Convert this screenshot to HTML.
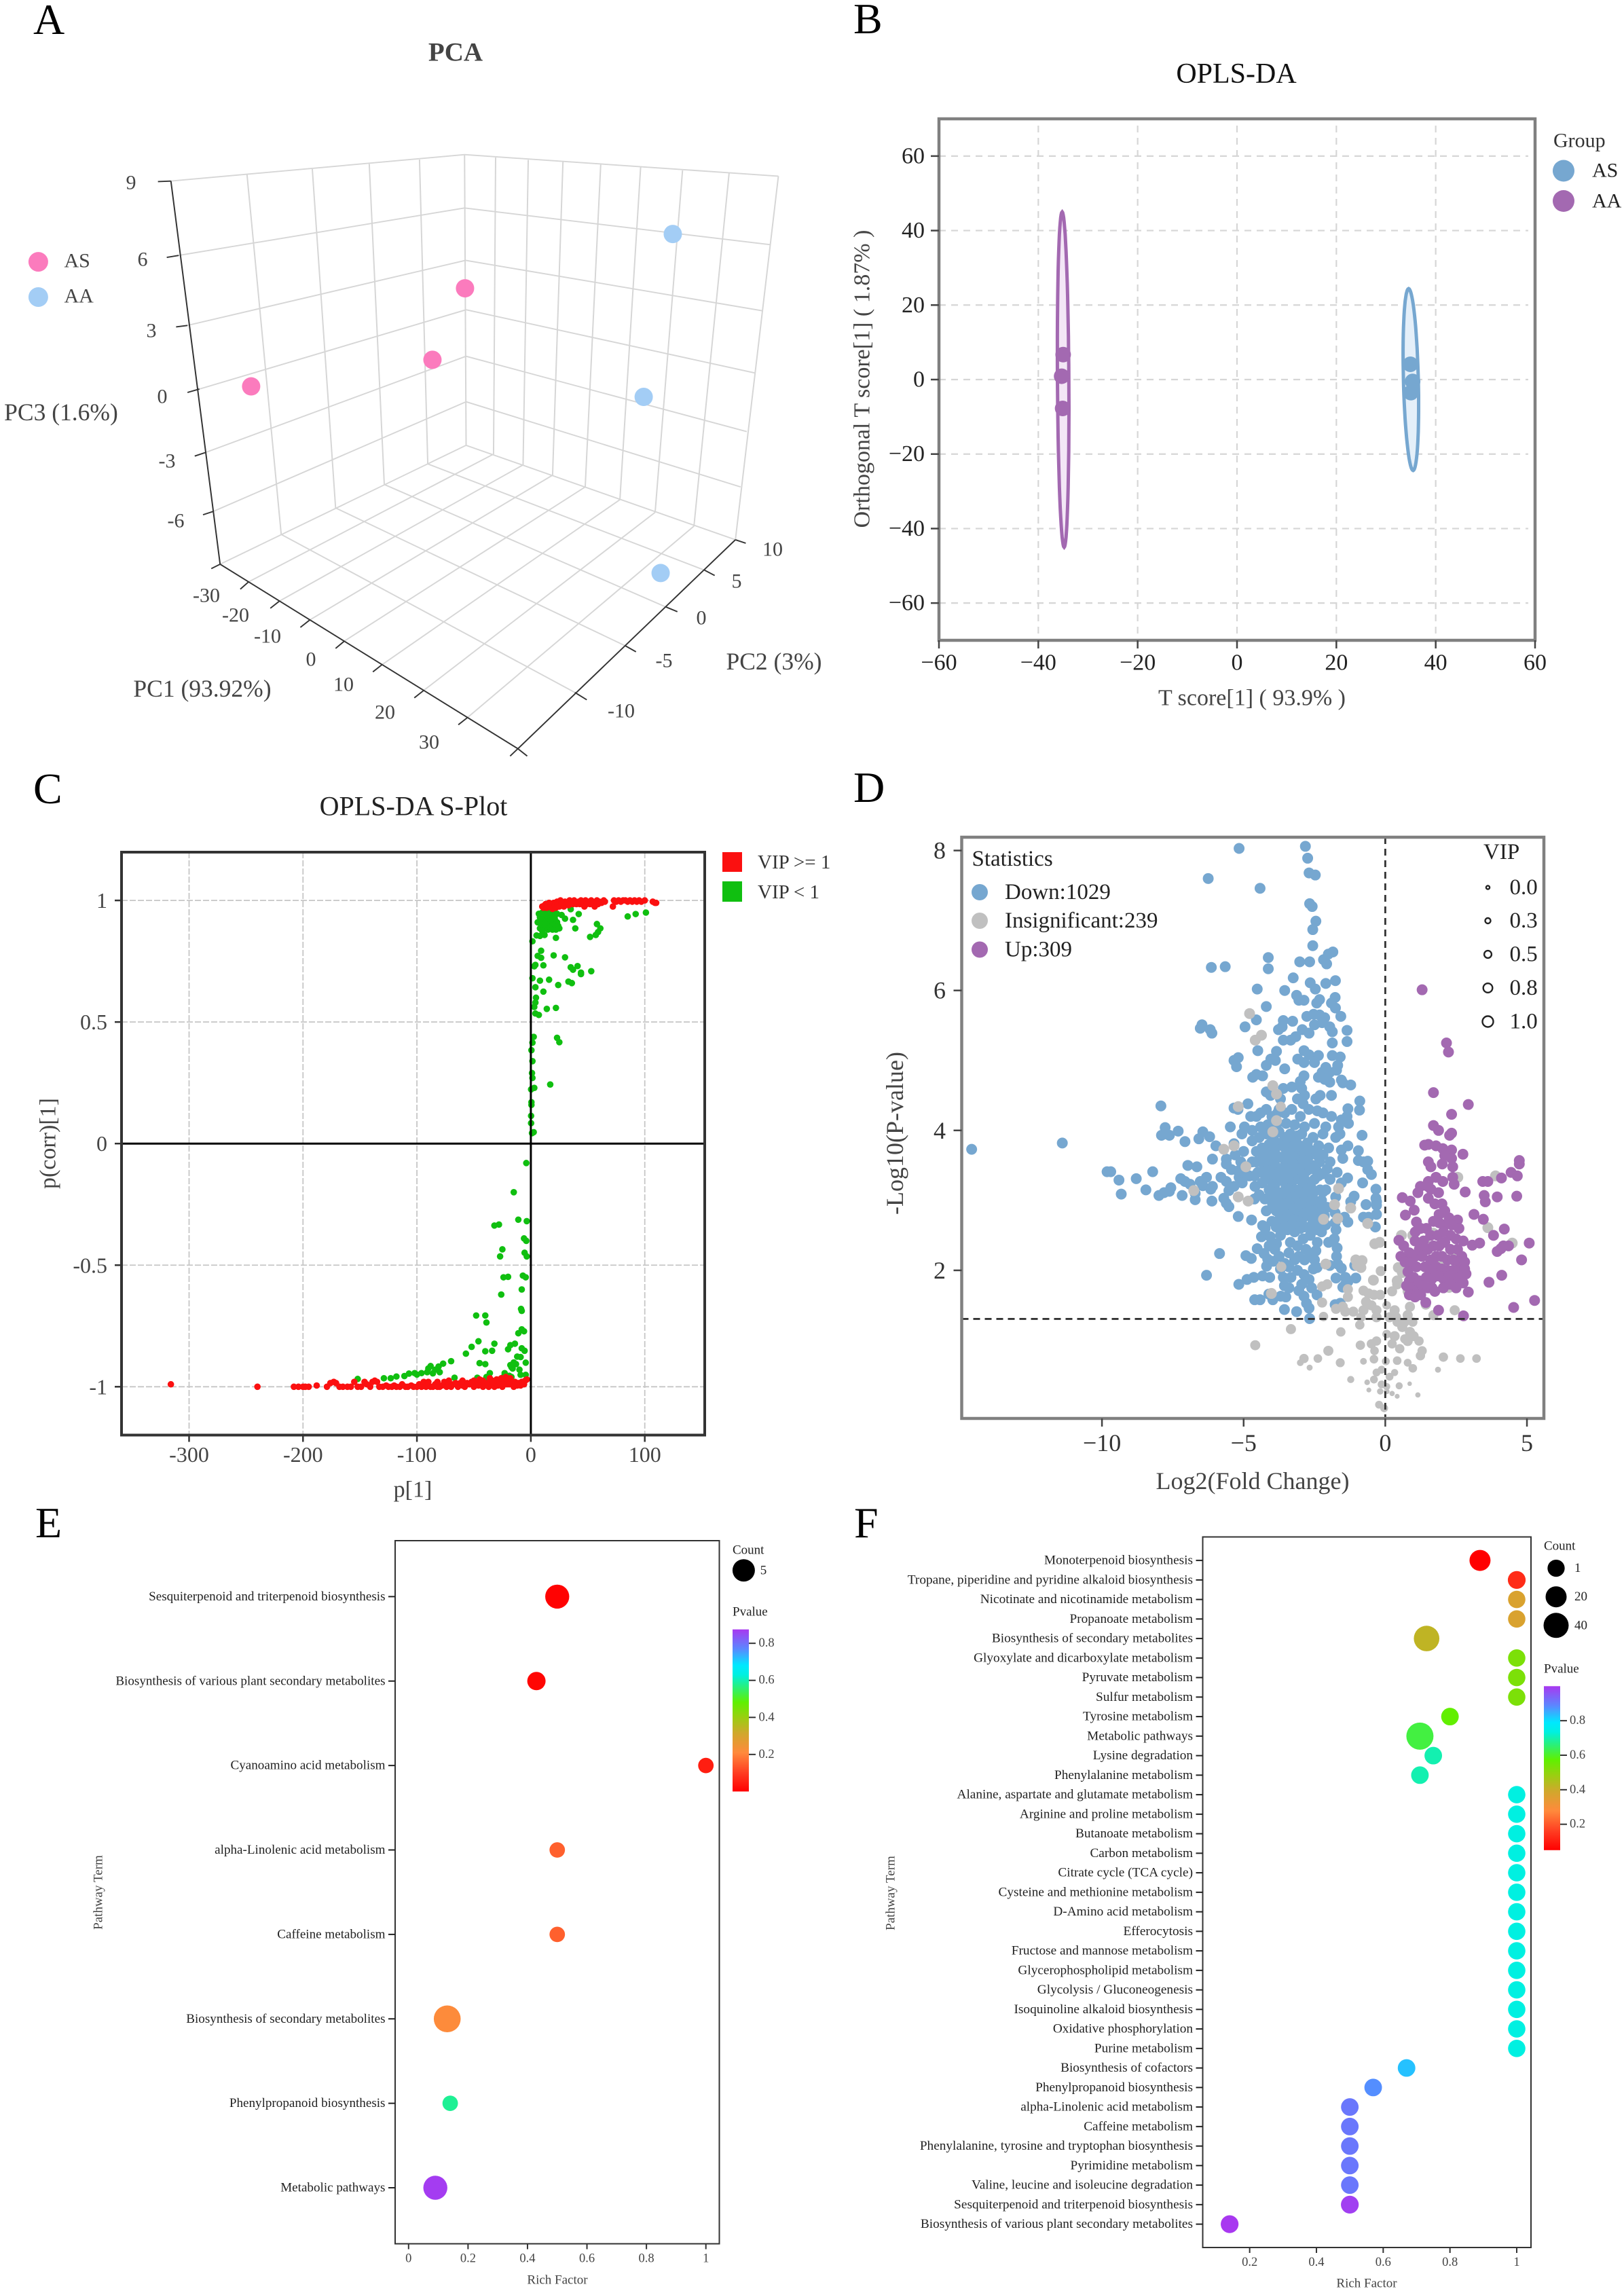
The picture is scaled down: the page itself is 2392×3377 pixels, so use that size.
<!DOCTYPE html>
<html lang="en">
<head>
<meta charset="utf-8">
<title>Metabolomics multi-panel figure</title>
<style>
html,body{margin:0;padding:0;background:#fff;}
svg{display:block;font-family:"Liberation Serif",serif;}
text{font-family:"Liberation Serif",serif;}
.c{text-anchor:middle;dominant-baseline:central;}
.l{text-anchor:start;dominant-baseline:central;}
.r{text-anchor:end;dominant-baseline:central;}
.letter{font-size:64px;fill:#000;}
</style>
</head>
<body>
<svg id="figure" xmlns="http://www.w3.org/2000/svg" width="2392" height="3377" viewBox="0 0 2392 3377">
<rect x="0" y="0" width="2392" height="3377" fill="#fff"/>
<defs id="defs"></defs>
<text class="letter" x="49" y="50">A</text>
<text class="letter" x="1257" y="49">B</text>
<text class="letter" x="49" y="1183">C</text>
<text class="letter" x="1257" y="1181">D</text>
<text class="letter" x="52" y="2264">E</text>
<text class="letter" x="1258" y="2264">F</text>

<g id="panel-a">
<text class="c" x="671" y="77" font-size="39" font-weight="bold" fill="#444">PCA</text>
<g transform="scale(.7628,.7207)" fill="none">
<path stroke="#d6d6d6" stroke-width="2.6" d="M477 357L543 1092M603 345L648 1038M713 335L742 990M810 324L826 948M897 316L900 910M330 370L897 316M345 522L897 425M362 665L899 532M385 795L900 633M396 925L900 728M412 1045L900 821M425 1153L900 910M897 316L1503 360M897 425L1487 500M899 532L1472 635M900 633L1457 762M900 728L1442 882M900 821L1430 995M900 910L1420 1103M1503 360L1420 1103M957 321L953 928M1020 326L1010 950M1087 331L1067 971M1160 335L1130 995M1237 342L1197 1021M1318 347L1265 1047M1408 352L1340 1075M953 928L480 1189M1010 950L540 1228M1067 971L598 1267M1130 995L665 1310M1197 1021L738 1358M1265 1047L818 1411M1340 1075L903 1466M543 1092L1110 1415M648 1038L1208 1320M742 990L1285 1240M826 948L1360 1165"/>
<path stroke="#333" stroke-width="2.6" d="M330 370L425 1153L1000 1530L1420 1103M305 371L330 370M322 526L345 522M340 668L362 665M362 802L385 795M376 932L396 925M392 1052L412 1045M408 1162L425 1153M480 1189L464 1204M540 1228L522 1243M598 1267L580 1282M665 1310L648 1325M738 1358L720 1373M818 1411L800 1426M903 1466L885 1481M985 1545L1000 1530L1018 1545M1110 1415L1133 1430M1208 1320L1228 1332M1285 1240L1308 1250M1360 1165L1380 1176M1420 1103L1440 1110"/>
</g>
<g font-size="30" fill="#444">
<text class="c" x="193" y="269">9</text>
<text class="c" x="210" y="382">6</text>
<text class="c" x="223" y="487">3</text>
<text class="c" x="239" y="584">0</text>
<text class="c" x="246" y="679">-3</text>
<text class="c" x="259" y="767">-6</text>
<text class="c" x="304" y="877">-30</text>
<text class="c" x="347" y="906">-20</text>
<text class="c" x="394" y="937">-10</text>
<text class="c" x="458" y="971">0</text>
<text class="c" x="506" y="1008">10</text>
<text class="c" x="567" y="1049">20</text>
<text class="c" x="632" y="1093">30</text>
<text class="c" x="915" y="1047">-10</text>
<text class="c" x="978" y="973">-5</text>
<text class="c" x="1033" y="910">0</text>
<text class="c" x="1085" y="856">5</text>
<text class="c" x="1138" y="809">10</text>
</g>
<g font-size="35.5" fill="#444">
<text class="c" x="90" y="607">PC3 (1.6%)</text>
<text class="c" x="298" y="1014">PC1 (93.92%)</text>
<text class="c" x="1140" y="974">PC2 (3%)</text>
</g>
<circle cx="56.4" cy="385.6" r="14.5" fill="#fb7bbd"/>
<circle cx="56.4" cy="437.5" r="14.5" fill="#a3cdf5"/>
<text class="l" x="94.5" y="384" font-size="30" fill="#444">AS</text>
<text class="l" x="94.5" y="436" font-size="30" fill="#444">AA</text>
</g>

<g id="panel-b">
<text class="c" x="1821" y="109" font-size="42" fill="#111">OPLS-DA</text>
<text class="c" x="1844" y="1028" font-size="34" fill="#444">T score[1] ( 93.9% )</text>
<text class="c" transform="translate(1270,558) rotate(-90)" font-size="34" fill="#444">Orthogonal T score[1] ( 1.87% )</text>
<text class="l" x="2288" y="207" font-size="30" fill="#333">Group</text>
<circle cx="2303" cy="251.5" r="16" fill="#76a7d0"/>
<circle cx="2303" cy="296" r="16" fill="#a369b1"/>
<text class="l" x="2345" y="251" font-size="30" fill="#222">AS</text>
<text class="l" x="2345" y="296" font-size="30" fill="#222">AA</text>
</g>

<g id="panel-c">
<text class="c" x="609" y="1187" font-size="40" fill="#222">OPLS-DA S-Plot</text>
<text class="c" x="608" y="2194" font-size="34" fill="#444">p[1]</text>
<text class="c" transform="translate(71,1684) rotate(-90)" font-size="34" fill="#444">p(corr)[1]</text>
<rect x="1064" y="1255" width="29" height="29" fill="#fb1010"/>
<rect x="1064" y="1298" width="29" height="30" fill="#10bf10"/>
<text class="l" x="1116" y="1270" font-size="29" fill="#333">VIP &gt;= 1</text>
<text class="l" x="1116" y="1314" font-size="29" fill="#333">VIP &lt; 1</text>
</g>

<g id="panel-d">
<text class="c" x="1845" y="2181" font-size="36" fill="#444">Log2(Fold Change)</text>
<text class="c" transform="translate(1318,1669) rotate(-90)" font-size="36" fill="#444">-Log10(P-value)</text>
</g>

<g id="panel-e">
<text class="c" x="821" y="3358" font-size="19" fill="#444">Rich Factor</text>
<text class="c" transform="translate(145,2787) rotate(-90)" font-size="19" fill="#444">Pathway Term</text>
<text class="l" x="1079" y="2283" font-size="19" fill="#222">Count</text>
<text class="l" x="1079" y="2374" font-size="19" fill="#222">Pvalue</text>
</g>

<g id="panel-f">
<text class="c" x="2013" y="3363" font-size="19" fill="#444">Rich Factor</text>
<text class="c" transform="translate(1312,2788) rotate(-90)" font-size="19" fill="#444">Pathway Term</text>
<text class="l" x="2274" y="2277" font-size="19" fill="#222">Count</text>
<text class="l" x="2274" y="2458" font-size="19" fill="#222">Pvalue</text>
</g>
</svg>

<script>
/* ---------- Panel A data ---------- */
const pcaAS = [[-33,-13.06,-0.62],[-33,8.07,-7.71],[-33,12.55,-5.75]];
const pcaAA = [[33,10.8,5.61],[33,5.78,-0.94],[33,5.92,-10.26]];

/* ---------- Panel B data ---------- */
const oplsTicks = [-60,-40,-20,0,20,40,60];
const oplsAS = [[34.9,4.1],[35.35,-0.5],[35,-3.5]];
const oplsAA = [[-35,6.7],[-35.3,0.9],[-35.1,-7.75]];
const oplsEllipseAS = [35,0,1.5,24.4,0.45];
const oplsEllipseAA = [-35,0,1.15,45,0.2];

/* ---------- Panel C data ---------- */
const sPlotXTicks = [-300,-200,-100,0,100];
const sPlotYTicks = [-1,-0.5,0,0.5,1];
const sPlotGreen = [[101,.95],[92,.944],[85,.934],[61,.885],[59,.87],[58,.903],[57,.858],[52,.85],[39,.885],[42,.944],[35,.964],[30,.925],[37,.92],[27,.94],[25,.885],[22,.846],[20,.774],[30,.766],[35,.725],[37,.715],[41,.73],[44,.703],[44,.697],[53,.709],[33,.666],[36,.66],[24,.652],[16,.674],[8,.67],[1.4,.68],[4,.643],[11,.625],[4.5,.6],[4,.58],[3,.562],[4,.535],[7,.529],[14,.554],[22,.558],[23,.435],[25,.417],[17,.243],[2.5,.439],[1.4,.415],[.5,.384],[1.4,.339],[1,.29],[1.4,.27],[3,.229],[.2,.223],[.5,.17],[.5,.159],[.2,.114],[.2,.084],[2.5,.047],[1,.043],[1.4,.832],[5,.856],[8,.854],[12,.858],[9,.793],[6,.772],[9,.764],[4,.735],[3,.729],[11,.733],
[6,.91],[8,.93],[9,.9],[10,.95],[11,.92],[12,.89],[13,.94],[13,.91],[14,.96],[15,.88],[15,.93],[16,.9],[16,.95],[17,.92],[17,.89],[18,.94],[18,.965],[19,.91],[19,.88],[20,.935],[20,.955],[21,.9],[21,.925],[22,.88],[23,.91],[23,.945],[24,.895],[8,.885],[10,.875],[7,.945],
[-4,-.08],[-15,-.2],[-11,-.313],[-3.6,-.319],[-28,-.333],[-32,-.337],[-6,-.39],[-4,-.4],[-25,-.435],[-27,-.464],[-5.5,-.449],[-3.6,-.464],[-24,-.55],[-20,-.548],[-7,-.543],[-4.5,-.55],[-8,-.6],[-26,-.621],[-8.6,-.68],[-8,-.688],[-48,-.707],[-40,-.707],[-39,-.736],[-8,-.764],[-11,-.78],[-6,-.772],[-46,-.813],[-52,-.836],[-32,-.823],[-18,-.829],[-14,-.823],[-40,-.854],[-34,-.852],[-20,-.846],[-8,-.842],[-5.5,-.852],[-57,-.864],[-12,-.876],[-9,-.878],[-45,-.903],[-40,-.907],[-18,-.911],[-13,-.907],[-4.5,-.901],[-70,-.895],[-77,-.905],[-81,-.917],[-88,-.915],[-91,-.94],[-96,-.944],[-102,-.944],[-107,-.946],[-111,-.956],[-118,-.958],[-123,-.965],[-129,-.965],[-152,-.968],[-67,-.963],[-47,-.963],[-36,-.944],[-39,-.96],[-23,-.944],[-17,-.96],[-9,-.951],[-4.5,-.951],[-16,-.925],[-84,-.93],[-90,-.925],[-86,-.945],[-80,-.94],[-100,-.95],[-15,-.9],[-17,-.92],[-19,-.955],[-24,-.96],[-10,-.93]];
const sPlotRed = [[-316,-.99],[-240,-1],[-208,-1],[-204,-1],[-200,-1],[-198,-1],[-195,-1],[-188,-.995],[-179,-1],[-176,-.985],[-173,-.98],[-171,-.985],[-168,-1],[-165,-1],[-161,-1],[-158,-1],[-155,-.98],[-152,-1],[-149,-1],[-146,-.98],[-144,-.99],[-141,-1],[-139,-.98],[-137,-.975],[-135,-.98],[-133,-1],[-130,-1],[-127,-.995],[-125,-1],[-122,-1],[-120,-.995],[-118,-1],[-115,-1],[-113,-.99],[-110,-1],[-108,-1],[-105,-.995],[-103,-1],[-100,-1],[-98,-.99],[-96,-1],[-94,-.98],[-92,-1],[-90,-.995],[-88,-1],[-86,-1],[-84,-.99],[-82,-1],[-80,-1],[-78,-.995],[-76,-.98],[-74,-1],[-72,-.99],[-70,-1],[-68,-.99],[-66,-.985],[-64,-1],[-62,-.985],[-60,-.995],[-58,-1],[-56,-.985],[-54,-.99],[-52,-.98],[-50,-1],[-48,-.985],[-46,-.995],[-44,-.98],[-42,-1],[-40,-.99],[-38,-.985],[-37,-1],[-35,-.99],[-34,-.975],[-32,-1],[-31,-.985],[-29,-.995],[-28,-.975],[-27,-.985],[-25,-1],[-24,-.97],[-23,-.985],[-21,-.99],[-20,-.975],[-19,-.99],[-18,-.965],[-16,-.985],[-15,-1],[-14,-.98],[-12,-.995],[-11,-.985],[-9,-.995],[-8,-.98],[-7,-.985],[-6,-.99],[-5,-.975],[-3.5,-.97],[-60,-.975],[-50,-.975],[-45,-.97],[-42,-.975],[-36,-.965],[-30,-.97],[-26,-.965],[-22,-.96],[-72,-.975],[-82,-.98],[-90,-.98],
[10,.975],[11,.97],[12,.98],[13,.985],[14,.97],[15,.98],[16,.99],[17,.975],[18,.985],[19,.965],[20,.99],[21,.98],[22,.97],[23,.995],[24,.985],[25,.975],[26,1],[27,.985],[28,.99],[29,.975],[30,.995],[31,.985],[32,.99],[33,.98],[34,1],[35,.99],[36,.995],[37,.985],[38,1],[39,.99],[40,.985],[42,.995],[43,.985],[44,1],[46,.99],[47,.975],[48,1],[49,.985],[51,.995],[52,.985],[53,1],[55,.99],[56,.975],[58,1],[59,.985],[60,.995],[62,.99],[64,1],[65,.995],[72,.975],[73,1],[75,.995],[77,1],[79,.995],[81,1],[83,1],[85,.995],[87,1],[89,.995],[91,1],[93,.995],[95,1],[97,.995],[100,1],[107,.995],[109,.99],[110,.99]];

/* ---------- Panel D data ---------- */
const volcanoXTicks = [-10,-5,0,5];
const volcanoYTicks = [2,4,6,8];
const volcanoDown = [[-14.6,3.73],[-11.4,3.82],[-5.16,8.03],[-2.82,8.06],[-2.74,7.89],[-2.69,7.68],[-2.47,7.65],[-6.25,7.6],[-4.42,7.46],[-2.67,7.24],[-2.58,7.2],[-2.45,6.99],[-2.56,6.87],[-2.56,6.64],[-1.85,6.55],[-2.01,6.52],[-2.18,6.44],[-2.07,6.38],[-2.67,6.41],[-3.02,6.41],[-4.13,6.47],[-4.13,6.31],[-6.14,6.33],[-5.65,6.34],[-3.25,6.18],[-2.65,6.11],[-2.1,6.1],[-1.76,6.14],[-2.47,6.02],[-4.52,6.02],[-3.55,6],[-3.13,5.93],[-3.05,5.86],[-2.87,5.86],[-2.32,5.87],[-2.42,5.82],[-1.77,5.9],[-1.9,5.82],[-1.76,5.75],[-4.2,5.77],[-4.55,5.58],[-2.77,5.63],[-2.53,5.66],[-2.32,5.65],[-2.14,5.61],[-1.57,5.63],[-3.6,5.57],[-3.27,5.56],[-3.64,5.48],[-3.77,5.44],[-4.95,5.48],[-6.47,5.51],[-6.53,5.46],[-6.18,5.44],[-6.12,5.39],[-2.93,5.44],[-2.69,5.39],[-2.5,5.51],[-2.23,5.54],[-1.96,5.48],[-1.87,5.41],[-1.35,5.43],[-3.16,5.34],[-3.34,5.29],[-3.6,5.29],[-1.87,5.25],[-1.35,5.27],[-4.5,5.14],[-3.84,5.13],[-2.87,5.14],[-2.69,5.08],[-2.36,5.07],[-1.87,5.07],[-1.59,5.05],[-3.09,5.02],[-4.04,5.02],[-3.88,5],[-5.19,5.04],[-5.34,5],[-5.25,4.91],[-4.2,4.93],[-2.87,4.97],[-2.5,4.97],[-1.68,4.93],[-2.1,4.9],[-2.23,4.83],[-1.96,4.83],[-1.72,4.86],[-3.55,4.88],[-4.68,4.76],[-4.55,4.8],[-4.33,4.78],[-2.87,4.78],[-2.36,4.76],[-2.14,4.73],[-1.96,4.69],[-1.55,4.72],[-1.5,4.68],[-1.22,4.65],
[-4.2,4.55],[-4.05,4.5],[-3.6,4.6],[-3.3,4.62],[-3,4.7],[-2.95,4.6],[-2.85,4.5],[-3.1,4.45],[-2.9,4.38],[-2.45,4.45],[-2.3,4.5],[-1.9,4.5],[-.9,4.42],[-.91,4.29],[-3.7,4.45],[-3.75,4.3],[-5.2,4.3],[-4.85,4.38],[-4.75,4.2],[-4.55,4.2],[-4.4,4.25],[-4.2,4.3],[-4,4.2],[-3.8,4.25],[-3.55,4.25],[-3.3,4.3],[-3,4.2],[-2.7,4.3],[-2.4,4.28],[-2.2,4.25],[-1.9,4.2],[-1.32,4.31],[-1.55,4.15],[-1.3,4.1],[-1.65,4.05],[-2.1,4.05],[-2.5,4.1],[-2.85,4.05],[-3.2,4.08],[-3.5,4.1],[-3.85,4.05],[-4.15,4.08],[-4.4,4.05],[-4.7,4],
[-7.92,4.35],[-7.77,4.04],[-7.8,3.95],[-7.9,3.93],[-7.62,3.93],[-7.31,3.99],[-7.07,3.84],[-6.58,3.88],[-6.44,3.98],[-6.2,3.91],[-5.98,3.78],[-5.61,3.59],[-6.1,3.59],[-6.97,3.5],[-6.65,3.48],[-9.82,3.41],[-9.69,3.41],[-9.4,3.29],[-9.32,3.09],[-8.79,3.31],[-8.45,3.15],[-8.21,3.41],[-7.99,3.07],[-7.81,3.11],[-7.57,3.18],[-7.62,3.13],[-7.22,3.31],[-7.07,3.27],[-7.17,3.07],[-6.89,3.23],[-6.71,3.1],[-6.71,3.01],[-6.53,3.27],[-6.31,3.33],[-6.44,3.21],[-6.16,3.16],[-6.12,2.99],[-6.1,3.2],[-5.7,3.03],[-5.61,2.96],[-5.52,2.91],[-5.8,3.33],[-5.61,3.27],[-5.52,3.14],[-5.34,3.2],[-5.16,3.33],[-5.61,3.52],[-5.43,3.44],[-5.34,3.81],[-5.06,3.95],[-4.97,4.05],[-5.47,4.05],[-5.34,4.32],[-5.3,3.65],[-5.1,3.55],[-5,3.7],[-5.2,3.42],[-5.05,3.25],[-4.95,3.4],
[-5.19,2.77],[-4.72,2.72],[-4.33,2.64],[-4.24,2.6],[-4.37,2.48],[-4.06,2.48],[-4.52,2.31],[-3.84,2.38],[-5.85,2.24],[-4.92,2.21],[-4.73,2.17],[-4.28,2.24],[-4.15,2.16],[-4.19,2.06],[-3.95,2.13],[-6.31,1.93],[-5.17,1.8],[-4.88,1.87],[-4.64,1.9],[-4.33,1.92],[-4.08,1.9],[-3.56,1.78],[-3.33,1.9],[-2.87,1.94],[-2.54,2.02],[-2.41,2.04],[-1.55,2.03],[-1.08,2.07],[-1.41,1.9],[-1.74,1.89],[-1.32,1.84],[-1.04,1.89],[-1.5,1.76],[-1.68,2.09],[-1.96,2.07],[-4.61,1.58],[-4.42,1.58],[-4.11,1.66],[-3.97,1.58],[-3.69,1.63],[-3.56,1.44],[-3.51,1.62],[-3.13,1.41],[-3.05,1.71],[-2.87,1.63],[-2.78,1.53],[-2.69,1.46],[-2.67,1.31],[-2.69,1.87],[-2.41,1.65],[-1.77,1.51],[-1.59,1.53],[-1.41,1.8],[-3.6,1.9],[-3.4,1.75],[-2.95,1.8],[-2.6,1.75],
[-.82,3.93],[-1.35,4.2],[-1.6,3.95],[-1.32,3.78],[-.95,3.71],[-.95,3.57],[-.77,3.55],[-.62,3.56],[-.62,3.44],[-.49,3.37],[-1.33,3.32],[-.8,3.25],[-.33,3.16],[-.33,3.03],[-.31,2.98],[-.31,2.93],[-.68,2.94],[-1.1,3.06],[-1.22,2.98],[-.31,2.8],[-.77,2.76],[-.59,2.76],[-.35,2.62],[-1.32,2.69],[-1.44,2.76],[-1.77,2.82],[-1.77,2.68],[-1.74,2.58],[-1.55,3.72],[-1.75,3.9],[-2,3.75],[-2.2,3.95],[-1.5,3.6],
[-4.2,2.85],[-4,2.7],[-3.85,2.62],[-3.7,2.5],[-3.6,2.7],[-3.45,2.58],[-3.35,2.4],[-3.2,2.55],[-3.1,2.35],[-3,2.6],[-2.9,2.45],[-2.8,2.3],[-2.65,2.5],[-2.5,2.6],[-2.4,2.4],[-2.25,2.55],[-2.1,2.65],[-2,2.4],[-1.8,2.45],[-1.7,2.32],[-1.72,2.2],[-2.45,2.28],[-2.65,2.2],[-2.85,2.15],[-3.05,2.2],[-3.2,2.15],[-3.4,2.25],[-3.55,2.1],[-3.75,2.2],[-3.9,2.3],[-4.1,2.35],[-3.7,2.02],[-3.4,2.05],[-3.1,2],[-2.5,2.15],[-2.3,2.7],[-2.15,2.78],[-2.05,2.9],[-2.25,3],[-2.1,3.15],[-1.95,3.3],[-1.7,3.4],[-1.55,3.25],[-1.75,3.05],[-1.95,3.55],[-2.2,3.65],[-2.05,3.45],
[-4.7,3.85],[-4.55,3.7],[-4.7,3.55],[-4.8,3.35],[-4.6,3.2],[-4.45,3.9],[-4.35,3.75],[-4.4,3.55],[-4.5,3.4],[-4.35,3.25],[-4.2,3.95],[-4.1,3.8],[-4.2,3.65],[-4.25,3.45],[-4.15,3.3],[-4.05,3.15],[-3.95,3.9],[-3.9,3.72],[-3.98,3.55],[-4,3.38],[-3.9,3.22],[-3.95,3.05],[-3.98,2.95],[-3.85,2.85],[-3.75,3.98],[-3.7,3.8],[-3.75,3.62],[-3.72,3.45],[-3.78,3.28],[-3.7,3.1],[-3.75,2.95],[-3.65,2.82],[-3.55,3.9],[-3.5,3.72],[-3.52,3.55],[-3.58,3.38],[-3.5,3.2],[-3.55,3.02],[-3.48,2.88],[-3.35,3.95],[-3.3,3.78],[-3.32,3.6],[-3.36,3.42],[-3.3,3.25],[-3.35,3.08],[-3.28,2.92],[-3.32,2.78],[-3.15,3.85],[-3.1,3.68],[-3.15,3.5],[-3.12,3.32],[-3.18,3.15],[-3.1,2.98],[-3.15,2.82],[-3.05,2.7],[-2.95,3.95],[-2.9,3.75],[-2.92,3.55],[-2.98,3.38],[-2.92,3.2],[-2.95,3.02],[-2.9,2.88],[-2.95,2.72],[-2.75,3.82],[-2.72,3.62],[-2.78,3.42],[-2.72,3.25],[-2.75,3.08],[-2.7,2.92],[-2.75,2.78],[-2.68,2.62],[-2.55,3.9],[-2.5,3.7],[-2.55,3.5],[-2.5,3.3],[-2.55,3.1],[-2.5,2.95],[-2.52,2.78],[-2.35,3.78],[-2.32,3.55],[-2.36,3.35],[-2.3,3.15],[-2.38,2.98],[-2.35,2.82],
[-3.85,3.48],[-3.62,3.62],[-3.42,3.52],[-3.22,3.42],[-3.02,3.62],[-3.42,3.32],[-3.62,3.28],[-3.22,3.62],[-3.02,3.3],[-2.82,3.52],[-3.82,3.12],[-3.6,3.12],[-3.4,3.15],[-3.22,3.05],[-3.02,3.12],[-2.82,3.12],[-2.62,3.18],[-3.85,2.98],[-3.62,2.95],[-3.42,2.98],[-3.22,2.88],[-3.02,2.92],[-2.82,2.98],[-2.62,2.85],[-3.45,2.78],[-3.22,2.72],[-2.85,2.62],[-3.75,2.72],[-3.62,3.78],[-3.42,3.85],[-3.22,3.78],[-3.02,3.78],[-2.82,3.72],[-3.82,3.82],[-4.02,3.68],[-4.12,3.5],[-3.82,3.35],[-4.1,3.15],
[-4.55,3.55],[-4.62,3.35],[-4.3,3.62],[-4.28,3.38],[-4.08,3.42],[-3.88,3.62],[-3.65,3.45],[-3.45,3.68],[-3.25,3.52],[-3.05,3.45],[-2.85,3.3],[-2.65,3.45],[-2.42,3.42],[-2.65,3.72],[-2.42,3.65],[-3.95,3.78],[-3.12,3.92],[-2.2,3.38],[-2.2,3.12],[-2.2,2.9],[-2.6,3],[-2.82,2.82],[-3.5,2.95],[-3.3,2.65],[-3.55,2.62],[-2.55,2.68],[-2.4,2.58],[-4.45,3.08],[-4.62,3.02],[-4.25,3.02]];
const volcanoInsig = [[-4.79,5.67,1],[-4.59,5.29,1],[-4.37,5.36,1],[-3.97,4.64,1],[-3.84,4.52,1],[-3.69,4.34,.9],[-5.19,4.34,1],[-3.84,4.14,1],[-3.97,3.98,1],[-5.7,3.73,1],[-5.34,3.78,1],[-4.92,3.48,1],[-6.76,3.14,1],[-5.19,3.05,1],[-4.84,2.99,1],[-1.65,3.17,1],[-1.79,2.94,1],[-1.22,2.89,1],[-2.18,2.73,1],[-1.68,2.74,1],[-.62,2.67,1],[-.37,2.38,1],[-.2,2.4,1],[-3.67,2.05,.9],[-2.1,2.09,1],[-1.04,2.15,1],[-.82,2.14,1],[-.99,2.07,1],[-.86,2.04,1],[-.16,1.99,.9],[-.42,1.86,1],[.42,1.85,1],[.46,2.04,1],[.6,1.97,1],[.57,2.5,1],[.97,2.5,1],[1.39,2.41,1],[1.7,2.53,1],[2.56,3.33,1],[3.89,3.35,1],[3.62,2.61,1],[4.48,2.39,1],[2.43,2.21,.9],[1.97,2.07,.9],[2.25,1.75,.9],[2.45,1.43,.9],[1.7,1.36,.9],[1.43,1.51,.9],[-4.02,1.67,1],[-2.23,1.77,.9],[-2.05,1.8,.9],[-1.32,1.73,.9],[-.77,1.71,.9],[-.59,1.67,.9],[-.4,1.65,.9],[-.18,1.65,.9],[-2.23,1.54,.9],[-1.74,1.45,.9],[-1.5,1.48,.9],[-1.32,1.62,.9],[-1.41,1.41,.9],[-1.13,1.41,.9],[-.68,1.55,.9],[-.49,1.5,.9],[-.31,1.43,.9],[-.77,1.43,.9],[-2.18,1.34,.8],[-.86,1.33,.8],[.24,1.7,.9],[.42,1.8,.9],[.79,1.7,.9],[.33,1.43,.9],[.38,1.33,.9],[.87,1.48,.9],[.79,1.36,.9],[.15,1.33,.9],[-.31,1.33,.9],[.05,1.5,.7],
[-3.33,1.16,.9],[-4.59,.93,.9],[-2.01,.85,.9],[-1.57,1.12,.8],[-.9,1.22,.8],[-.88,.93,.8],[-.49,.95,.8],[-.31,.99,.8],[-.38,.85,.7],[.05,1.09,.7],[.33,1.06,.9],[.6,1.19,.9],[.87,1.12,.9],[1,1.06,.9],[.79,.99,.9],[.51,.88,.8],[.24,.95,.8],[1.19,.99,.8],[1.3,.85,.8],[1.24,.78,.8],[.69,1.02,.8],[.42,1.26,.8],[.97,1.26,.8],[.69,1.26,.8],
[-2.87,.74,.8],[-3,.68,.45],[-2.38,.74,.7],[-2.67,.61,.35],[-1.59,.68,.75],[-.77,.7,.45],[-.4,.73,.7],[.02,.7,.6],[.42,.71,.7],[.79,.68,.6],[.97,.6,.7],[2.05,.76,.8],[2.65,.74,.7],[3.22,.74,.7],[1.86,.58,.35],[.86,.38,.15],[1.15,.22,.25],[.49,.35,.5],[.15,.48,.6],[.33,.54,.5],[-.13,.58,.6],[-.31,.54,.6],[-.4,.44,.6],[-.13,.37,.6],[.05,.34,.5],[-1.22,.44,.5],[-.64,.4,.3],[-.58,.29,.2],[-.18,.27,.4],[.05,.27,.3],[.24,.24,.25],[.42,.2,.2],[-.22,.08,.6],[-.04,.03,.6]];
const volcanoUp = [[1.3,6.01],[2.16,5.25],[2.23,5.12],[1.7,4.54],[2.93,4.37],[2.34,4.23],[1.7,4.07],[1.88,4],[2.34,3.96],[2.27,3.93],[1.39,3.79],[1.52,3.8],[1.79,3.78],[2.03,3.74],[2.34,3.72],[2.74,3.66],[2.1,3.64],[2.34,3.6],[1.52,3.55],[1.61,3.48],[2.01,3.52],[2.38,3.48],[2.38,3.33],[2.43,3.23],[1.79,3.33],[1.52,3.27],[1.24,3.2],[2.03,3.27],[1.61,3.16],[1.88,3.11],[1.52,3.03],[1.15,3.11],[.88,2.99],[.6,3.04],[2.82,3.12],[4.73,3.57],[4.73,3.52],[4.44,3.4],[4.66,3.35],[4.1,3.32],[3.44,3.27],[3.62,3.27],[3.49,3.07],[3.53,2.98],[3.95,3.05],[4.64,3.06],[3.13,2.8],[3.46,2.73],[3.82,2.5],[4.2,2.59],[5.08,2.39],[3.07,2.36],[3.33,2.39],[3.95,2.27],[4.17,2.35],[4.35,2.35],[4.08,2.31],[4.81,2.15],[4.11,1.93],[3.66,1.83],[5.27,1.57],[4.53,1.47],[2.93,1.69],[2.76,1.35],[1.88,1.43],[1.43,1.54],[.71,2.79],[1.02,2.86],[1.1,2.69],[1.06,2.55],[.48,2.43],
[1.5,3.2],[1.75,2.95],[2,2.95],[2.1,2.85],[1.9,2.8],[2.25,2.75],[2.55,2.72],[2.6,2.6],[2.35,2.65],[2.1,2.65],[1.9,2.68],[1.7,2.7],[1.45,2.6],[1.25,2.6],[1.05,2.42],[1.6,2.5],[1.85,2.5],[2.05,2.55],[2.3,2.5],[2.5,2.45],[2.75,2.42],[1.35,2.42],[1.2,2.3],[1.05,2.2],[.85,2.25],[.65,2.35],[.55,2.2],[.7,2.12],[.9,2.1],[.8,1.98],[1.1,2.05],[1.3,2.2],[1.5,2.3],[1.7,2.35],[1.9,2.35],[2.1,2.4],[2.3,2.3],[2.55,2.3],[2.7,2.2],[1.6,2.15],[1.8,2.2],[2,2.2],[2.2,2.15],[2.4,2.15],[2.6,2.12],[2.8,2.12],[1.4,2.05],[1.6,2],[1.8,2.05],[2,2.02],[2.2,2],[2.4,2],[2.6,2],[2.8,2.02],[2.85,1.95],[1.45,1.9],[1.65,1.88],[1.85,1.92],[2.05,1.88],[2.25,1.92],[2.45,1.88],[2.65,1.9],[.85,1.85],[1,1.9],[1.2,1.85],[.75,1.78],[.95,1.75],[1.15,1.72],[1.3,1.78],[1.5,1.75],[1.65,1.75],[.85,1.65],[1.05,1.62],[1.25,1.65],[1.75,1.7],[2.05,1.75],[2.3,1.8],[2.5,1.75],[2.75,1.82]];

/* ---------- Panel E data ---------- */
const eTerms = ["Sesquiterpenoid and triterpenoid biosynthesis","Biosynthesis of various plant secondary metabolites","Cyanoamino acid metabolism","alpha-Linolenic acid metabolism","Caffeine metabolism","Biosynthesis of secondary metabolites","Phenylpropanoid biosynthesis","Metabolic pathways"];
const eRich = [0.5,0.43,1,0.5,0.5,0.13,0.14,0.09];
const ePvalue = [0.005,0.01,0.05,0.15,0.15,0.215,0.58,0.87];
const eCount = [4,2,1,1,1,5,1,4];
const eXTicks = [0,0.2,0.4,0.6,0.8,1];
const ePvalueTicks = [0.2,0.4,0.6,0.8];

/* ---------- Panel F data ---------- */
const fTerms = ["Monoterpenoid biosynthesis","Tropane, piperidine and pyridine alkaloid biosynthesis","Nicotinate and nicotinamide metabolism","Propanoate metabolism","Biosynthesis of secondary metabolites","Glyoxylate and dicarboxylate metabolism","Pyruvate metabolism","Sulfur metabolism","Tyrosine metabolism","Metabolic pathways","Lysine degradation","Phenylalanine metabolism","Alanine, aspartate and glutamate metabolism","Arginine and proline metabolism","Butanoate metabolism","Carbon metabolism","Citrate cycle (TCA cycle)","Cysteine and methionine metabolism","D-Amino acid metabolism","Efferocytosis","Fructose and mannose metabolism","Glycerophospholipid metabolism","Glycolysis / Gluconeogenesis","Isoquinoline alkaloid biosynthesis","Oxidative phosphorylation","Purine metabolism","Biosynthesis of cofactors","Phenylpropanoid biosynthesis","alpha-Linolenic acid metabolism","Caffeine metabolism","Phenylalanine, tyrosine and tryptophan biosynthesis","Pyrimidine metabolism","Valine, leucine and isoleucine degradation","Sesquiterpenoid and triterpenoid biosynthesis","Biosynthesis of various plant secondary metabolites"];
const fRich = [0.89,1,1,1,0.73,1,1,1,0.8,0.71,0.75,0.71,1,1,1,1,1,1,1,1,1,1,1,1,1,1,0.67,0.57,0.5,0.5,0.5,0.5,0.5,0.5,0.14];
const fPvalue = [0.05,0.13,0.37,0.37,0.42,0.53,0.53,0.53,0.57,0.62,0.7,0.7,0.735,0.735,0.735,0.735,0.735,0.735,0.735,0.735,0.735,0.735,0.735,0.735,0.735,0.735,0.83,0.88,0.91,0.91,0.91,0.91,0.91,0.99,1];
const fCount = [20,4,2,2,42,2,2,2,3,50,3,3,2,2,2,2,2,2,2,2,2,2,2,2,2,2,3,3,3,3,3,3,3,4,4];
const fXTicks = [0.2,0.4,0.6,0.8,1];
const fPvalueTicks = [0.2,0.4,0.6,0.8];
const fLegendCounts = [1,20,40];

/* ---------- helpers ---------- */
const NS = 'http://www.w3.org/2000/svg';
function mk(parent, tag, attrs, text) {
  const node = document.createElementNS(NS, tag);
  for (const k in attrs) node.setAttribute(k, attrs[k]);
  if (text !== undefined) node.textContent = text;
  parent.appendChild(node);
  return node;
}
function linear(d0, d1, r0, r1) { return v => r0 + (v - d0) * (r1 - r0) / (d1 - d0); }
function fmtMinus(v) { return String(v).replace('-', '\u2212'); }

function axisMarks(parent, opts) {
  const f = opts.frame;
  opts.xs.forEach(v => {
    const x = opts.sx(v);
    const t = mk(parent, 'line', {x1:x, x2:x, y1:f.y1, y2:f.y1 + opts.tick, stroke:opts.tickColor, 'stroke-width':opts.tickWidth});
    
    
    const s = mk(parent, 'text', {class:'c', x:x, y:opts.xLabelY, 'font-size':opts.font, fill:opts.color}, opts.xFmt(v));
    
    
  });
  opts.ys.forEach(v => {
    const y = opts.sy(v);
    const t = mk(parent, 'line', {x1:f.x0 - opts.tick, x2:f.x0, y1:y, y2:y, stroke:opts.tickColor, 'stroke-width':opts.tickWidth});
    
    
    const s = mk(parent, 'text', {class:'r', x:opts.yLabelX, y:y, 'font-size':opts.font, fill:opts.color}, opts.yFmt(v));
    
    
  });
}

/* ---------- Panel A ---------- */
(function () {
  const g = document.getElementById('panel-a');
  const project = (p1, p2, p3) => [700 + 5.38 * p1 + 11.8 * p2 - 2.5 * p3, 514 + 3.31 * p1 - 11.25 * p2 - 28 * p3];
  pcaAS.forEach(p => {
    const xy = project(p[0], p[1], p[2]);
    const m = mk(g, 'circle', {cx:xy[0], cy:xy[1], r:13.5, fill:'#fb7bbd'});
    
    
  });
  pcaAA.forEach(p => {
    const xy = project(p[0], p[1], p[2]);
    const m = mk(g, 'circle', {cx:xy[0], cy:xy[1], r:13.5, fill:'#a3cdf5'});
    
    
  });
})();

/* ---------- Panel B ---------- */
(function () {
  const g = document.getElementById('panel-b');
  const frame = {x0:1383, x1:2261, y0:175, y1:943};
  const sx = linear(-60, 60, frame.x0, frame.x1);
  const sy = linear(-70, 70, frame.y1, frame.y0);
  oplsTicks.filter(v => Math.abs(v) < 60).forEach(v => {
    const gl = mk(g, 'line', {x1:sx(v), x2:sx(v), y1:frame.y0 + 10, y2:frame.y1 - 10, stroke:'#d6d6d6', 'stroke-width':2.2, 'stroke-dasharray':'10 8'});
    
    
  });
  oplsTicks.forEach(v => {
    const gl = mk(g, 'line', {x1:frame.x0, x2:frame.x1 - 10, y1:sy(v), y2:sy(v), stroke:'#d6d6d6', 'stroke-width':2.2, 'stroke-dasharray':'10 8'});
    
    
  });
  function ellipsePath(e) {
    const n = 72; let d = '';
    for (let i = 0; i <= n; i++) {
      const t = i / n * 2 * Math.PI;
      const dx = e[2] * Math.cos(t) - e[4] * Math.sin(t);
      const dy = e[3] * Math.sin(t);
      d += (i ? 'L' : 'M') + sx(e[0] + dx).toFixed(1) + ' ' + sy(e[1] + dy).toFixed(1);
    }
    return d + 'Z';
  }
  const ea = mk(g, 'path', {d:ellipsePath(oplsEllipseAS), fill:'#e4eff9', stroke:'#76a7d0', 'stroke-width':5});
  
  
  const eb = mk(g, 'path', {d:ellipsePath(oplsEllipseAA), fill:'#f3e6f6', stroke:'#a369b1', 'stroke-width':5});
  
  
  oplsAS.forEach(p => {
    const m = mk(g, 'circle', {cx:sx(p[0]), cy:sy(p[1]), r:11.5, fill:'#76a7d0'});
    
    
  });
  oplsAA.forEach(p => {
    const m = mk(g, 'circle', {cx:sx(p[0]), cy:sy(p[1]), r:11.5, fill:'#a369b1'});
    
    
  });
  const fr = mk(g, 'rect', {x:frame.x0, y:frame.y0, width:frame.x1 - frame.x0, height:frame.y1 - frame.y0, fill:'none', stroke:'#808080', 'stroke-width':4.5});
  
  
  axisMarks(g, {xs:oplsTicks, ys:oplsTicks, sx, sy, frame, xFmt:fmtMinus, yFmt:fmtMinus, font:34, color:'#222', xLabelY:976, yLabelX:1362, tick:12, tickColor:'#444', tickWidth:2.5});
})();

/* ---------- Panel C ---------- */
(function () {
  const g = document.getElementById('panel-c');
  const frame = {x0:179, x1:1038, y0:1255, y1:2113.5};
  const sx = v => 781.9 + v * 1.678;
  const sy = v => 1684.2 - v * 358.1;
  sPlotXTicks.filter(v => v !== 0).forEach(v => {
    const gl = mk(g, 'line', {x1:sx(v), x2:sx(v), y1:frame.y0, y2:frame.y1, stroke:'#c6c6c6', 'stroke-width':1.8, 'stroke-dasharray':'9 3'});
    
    
  });
  sPlotYTicks.filter(v => v !== 0).forEach(v => {
    const gl = mk(g, 'line', {x1:frame.x0, x2:frame.x1, y1:sy(v), y2:sy(v), stroke:'#c6c6c6', 'stroke-width':1.8, 'stroke-dasharray':'9 3'});
    
    
  });
  sPlotGreen.forEach(p => {
    const m = mk(g, 'circle', {cx:sx(p[0]), cy:sy(p[1]), r:4.8, fill:'#10bf10'});
    
    
  });
  sPlotRed.forEach(p => {
    const m = mk(g, 'circle', {cx:sx(p[0]), cy:sy(p[1]), r:4.8, fill:'#fb1010'});
    
    
  });
  const z1 = mk(g, 'line', {x1:sx(0), x2:sx(0), y1:frame.y0, y2:frame.y1, stroke:'#000', 'stroke-width':3});
  
  
  const z2 = mk(g, 'line', {x1:frame.x0, x2:frame.x1, y1:sy(0), y2:sy(0), stroke:'#000', 'stroke-width':3});
  
  
  const fr = mk(g, 'rect', {x:frame.x0, y:frame.y0, width:frame.x1 - frame.x0, height:frame.y1 - frame.y0, fill:'none', stroke:'#333', 'stroke-width':4});
  
  
  axisMarks(g, {xs:sPlotXTicks, ys:sPlotYTicks, sx, sy, frame, xFmt:String, yFmt:String, font:32, color:'#444', xLabelY:2142, yLabelX:158, tick:10, tickColor:'#333', tickWidth:2.5});
})();

/* ---------- Panel D ---------- */
(function () {
  const g = document.getElementById('panel-d');
  const frame = {x0:1416.5, x1:2274, y0:1233, y1:2089};
  const sx = v => 2040.4 + v * 41.73;
  const sy = v => 2077 - v * 103.05;
  const vipRadius = v => 2.5 + 5.5 * v;
  volcanoDown.forEach(p => {
    const m = mk(g, 'circle', {cx:sx(p[0]), cy:sy(p[1]), r:8, fill:'#76a7d0'});
    
    
  });
  volcanoInsig.forEach(p => {
    const m = mk(g, 'circle', {cx:sx(p[0]), cy:sy(p[1]), r:vipRadius(p[2]), fill:'#c0c0c0'});
    
    
  });
  volcanoUp.forEach(p => {
    const m = mk(g, 'circle', {cx:sx(p[0]), cy:sy(p[1]), r:8, fill:'#a369b1'});
    
    
  });
  const v0 = mk(g, 'line', {x1:sx(0), x2:sx(0), y1:frame.y0, y2:frame.y1, stroke:'#333', 'stroke-width':2.8, 'stroke-dasharray':'10 7'});
  
  
  const h0 = mk(g, 'line', {x1:frame.x0, x2:frame.x1, y1:sy(1.306), y2:sy(1.306), stroke:'#333', 'stroke-width':2.8, 'stroke-dasharray':'10 7'});
  
  
  const fr = mk(g, 'rect', {x:frame.x0, y:frame.y0, width:frame.x1 - frame.x0, height:frame.y1 - frame.y0, fill:'none', stroke:'#808080', 'stroke-width':4.5});
  
  
  axisMarks(g, {xs:volcanoXTicks, ys:volcanoYTicks, sx, sy, frame, xFmt:fmtMinus, yFmt:String, font:36, color:'#333', xLabelY:2125, yLabelX:1393, tick:12, tickColor:'#444', tickWidth:2.5});

  const stat = mk(g, 'text', {class:'l', x:1431.5, y:1265, 'font-size':33, fill:'#222'}, 'Statistics');
  
  
  [['Down:1029','#76a7d0',1314],['Insignificant:239','#c0c0c0',1356],['Up:309','#a369b1',1398.5]].forEach(e => {
    const c = mk(g, 'circle', {cx:1443, cy:e[2], r:12, fill:e[1]});
    
    
    const t = mk(g, 'text', {class:'l', x:1480, y:e[2], 'font-size':33, fill:'#222'}, e[0]);
    
    
  });
  const vip = mk(g, 'text', {class:'l', x:2185, y:1255, 'font-size':33, fill:'#222'}, 'VIP');
  
  
  [['0.0',2.6,1307],['0.3',4,1356],['0.5',5.4,1405.5],['0.8',6.8,1455],['1.0',8,1504.5]].forEach(e => {
    const c = mk(g, 'circle', {cx:2191.5, cy:e[2], r:e[1], fill:'#fff', stroke:'#222', 'stroke-width':2.4});
    
    
    const t = mk(g, 'text', {class:'l', x:2223.5, y:e[2], 'font-size':33, fill:'#222'}, e[0]);
    
    
  });
})();

/* ---------- Panels E & F ---------- */
const colorStops = [[0,[255,0,0]],[.11,[255,58,32]],[.24,[255,138,60]],[.36,[208,168,44]],[.46,[152,208,16]],[.55,[96,240,0]],[.66,[32,240,144]],[.72,[0,240,224]],[.78,[0,232,255]],[.88,[90,136,255]],[1,[168,56,240]]];
function rampColor(t) {
  t = Math.max(0, Math.min(1, t));
  for (let i = 1; i < colorStops.length; i++) {
    if (t <= colorStops[i][0]) {
      const a = colorStops[i - 1], b = colorStops[i], k = (t - a[0]) / (b[0] - a[0]);
      return 'rgb(' + a[1].map((c, j) => Math.round(c + (b[1][j] - c) * k)).join(',') + ')';
    }
  }
  return 'rgb(168,56,240)';
}
(function () {
  const defs = document.getElementById('defs');
  const lg = mk(defs, 'linearGradient', {id:'pvalue-ramp', x1:0, y1:1, x2:0, y2:0});
  colorStops.forEach(s => mk(lg, 'stop', {offset:s[0], 'stop-color':'rgb(' + s[1].join(',') + ')'}));
})();

function bubblePanel(id, cfg) {
  const g = document.getElementById(id);
  const f = cfg.frame;
  const sx = v => cfg.xAt0 + v * cfg.xPerUnit;
  const sy = i => cfg.yFirst + i * cfg.yStep;
  const frame = mk(g, 'rect', {x:f.x0, y:f.y0, width:f.x1 - f.x0, height:f.y1 - f.y0, fill:'none', stroke:'#333', 'stroke-width':2});
  
  
  cfg.terms.forEach((term, i) => {
    const t = mk(g, 'line', {x1:f.x0 - 10, x2:f.x0, y1:sy(i), y2:sy(i), stroke:'#222', 'stroke-width':2});
    
    
    const s = mk(g, 'text', {class:'r', x:cfg.labelX, y:sy(i), 'font-size':cfg.labelFont, fill:'#222'}, term);
    
    
    const b = mk(g, 'circle', {cx:sx(cfg.rich[i]), cy:sy(i), r:cfg.radius(cfg.count[i]), fill:rampColor((cfg.pvalue[i] - cfg.pMin) / (cfg.pMax - cfg.pMin))});
    
    
  });
  cfg.xTicks.forEach(v => {
    const t = mk(g, 'line', {x1:sx(v), x2:sx(v), y1:f.y1, y2:f.y1 + 8, stroke:'#333', 'stroke-width':2});
    
    
    const s = mk(g, 'text', {class:'c', x:sx(v), y:cfg.xLabelY, 'font-size':18.5, fill:'#444'}, String(v));
    
    
  });
  const bar = cfg.bar;
  const rect = mk(g, 'rect', {x:bar.x, y:bar.y0, width:bar.w, height:bar.y1 - bar.y0, fill:'url(#pvalue-ramp)'});
  
  
  const py = v => bar.y1 - (v - cfg.pMin) / (cfg.pMax - cfg.pMin) * (bar.y1 - bar.y0);
  cfg.pTicks.forEach(v => {
    const t = mk(g, 'line', {x1:bar.x + bar.w, x2:bar.x + bar.w + 10, y1:py(v), y2:py(v), stroke:'#333', 'stroke-width':2});
    
    
    const s = mk(g, 'text', {class:'l', x:bar.labelX, y:py(v), 'font-size':18.5, fill:'#444'}, String(v));
    
    
  });
}
const eRadius = c => 9.3 + 2.1 * c;
const fRadius = c => 12.5 + 0.15 * c;
bubblePanel('panel-e', {terms:eTerms, rich:eRich, pvalue:ePvalue, count:eCount, xTicks:eXTicks, pTicks:ePvalueTicks, radius:eRadius,
  frame:{x0:582, x1:1059.5, y0:2269, y1:3304.5}, xAt0:601.8, xPerUnit:437.9, yFirst:2351.4, yStep:124.37, labelX:567.5, labelFont:19.1, xLabelY:3326.5,
  pMin:0, pMax:0.875, bar:{x:1079, w:24, y0:2399.7, y1:2638.4, labelX:1117.5}});
bubblePanel('panel-f', {terms:fTerms, rich:fRich, pvalue:fPvalue, count:fCount, xTicks:fXTicks, pTicks:fPvalueTicks, radius:fRadius,
  frame:{x0:1771.5, x1:2255, y0:2263.5, y1:3310}, xAt0:1742.3, xPerUnit:491.7, yFirst:2298.1, yStep:28.75, labelX:1757, labelFont:19.3, xLabelY:3332,
  pMin:0.05, pMax:1, bar:{x:2274, w:24, y0:2483.3, y1:2724.8, labelX:2312}});

(function () {
  const ge = document.getElementById('panel-e');
  const ce = mk(ge, 'circle', {cx:1095.4, cy:2312.7, r:16.5, fill:'#000'});
  
  
  const te = mk(ge, 'text', {class:'c', x:1124.5, y:2313, 'font-size':19, fill:'#222'}, '5');
  
  
  const gf = document.getElementById('panel-f');
  const legendY = [2309.6, 2351.7, 2393.8];
  fLegendCounts.forEach((c, i) => {
    const k = mk(gf, 'circle', {cx:2292, cy:legendY[i], r:fRadius(c), fill:'#000'});
    
    
    const t = mk(gf, 'text', {class:'l', x:2319, y:legendY[i], 'font-size':19, fill:'#222'}, String(c));
    
    
  });
})();
</script>
</body>
</html>
